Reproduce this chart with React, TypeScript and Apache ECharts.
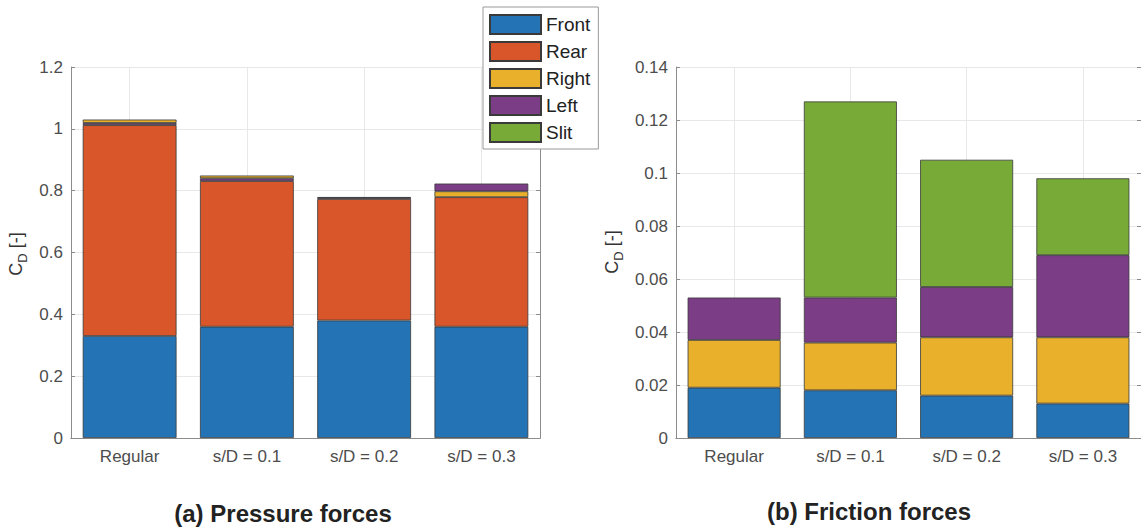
import React, { useEffect, useRef } from "react";
import * as echarts from "echarts";

const categories = ["Regular", "s/D = 0.1", "s/D = 0.2", "s/D = 0.3"];

// (a) Pressure forces
const pressureFront = [0.33, 0.36, 0.38, 0.36];
const pressureRear = [0.682, 0.471, 0.393, 0.419];
const pressureRight = [0.011, 0.009, 0.002, 0.019];
const pressureLeft = [0.007, 0.009, 0.004, 0.025];
// stacking order seen in the picture: purple drawn below yellow in first three bars
const leftBelowRight = [true, true, true, false];

// (b) Friction forces
const frictionFront = [0.019, 0.018, 0.016, 0.013];
const frictionRight = [0.018, 0.018, 0.022, 0.025];
const frictionLeft = [0.016, 0.017, 0.019, 0.031];
const frictionSlit = [null, 0.074, 0.048, 0.029];

const legendNames = ["Front", "Rear", "Right", "Left", "Slit"];
const colors: Record<string, string> = {
  Front: "#2474b5",
  Rear: "#d9552a",
  Right: "#e8b02b",
  Left: "#7b3d86",
  Slit: "#78aa37",
};

const FONT = "Liberation Sans, Arial, sans-serif";
const AXIS_COLOR = "#8c8c8c";
const GRID_COLOR = "#e8e8e8";
const LABEL_COLOR = "#4d4d4d";

function barSeries(name: string, data: (number | null)[], idx: number, stack: string) {
  return {
    type: "bar",
    name,
    data,
    stack,
    xAxisIndex: idx,
    yAxisIndex: idx,
    barWidth: "80%",
    itemStyle: { color: colors[name], borderColor: "#3a3a3a", borderWidth: 0.8 },
    emphasis: { disabled: true },
  };
}

function xAxes(idx: number) {
  return [
    {
      type: "category",
      gridIndex: idx,
      data: categories,
      position: "bottom",
      axisLine: { lineStyle: { color: AXIS_COLOR, width: 1 } },
      axisTick: { inside: true, alignWithLabel: true, length: 4, lineStyle: { color: AXIS_COLOR } },
      axisLabel: { fontSize: 17, color: LABEL_COLOR, fontFamily: FONT, margin: 10 },
      splitLine: { show: true, alignWithLabel: true, lineStyle: { color: GRID_COLOR, width: 1 } },
    },
    {
      type: "category",
      gridIndex: idx,
      data: categories,
      position: "top",
      axisLine: { lineStyle: { color: AXIS_COLOR, width: 1 } },
      axisTick: { inside: true, alignWithLabel: true, length: 4, lineStyle: { color: AXIS_COLOR } },
      axisLabel: { show: false },
      splitLine: { show: false },
    },
  ];
}

function yAxes(idx: number, max: number, interval: number) {
  return [
    {
      type: "value",
      gridIndex: idx,
      min: 0,
      max,
      interval,
      position: "left",
      axisLine: { show: true, lineStyle: { color: AXIS_COLOR, width: 1 } },
      axisTick: { show: true, inside: true, length: 4, lineStyle: { color: AXIS_COLOR } },
      axisLabel: { fontSize: 17, color: LABEL_COLOR, fontFamily: FONT, margin: 8 },
      splitLine: { show: true, lineStyle: { color: GRID_COLOR, width: 1 } },
    },
    {
      type: "value",
      gridIndex: idx,
      min: 0,
      max,
      interval,
      position: "right",
      axisLine: { show: true, lineStyle: { color: AXIS_COLOR, width: 1 } },
      axisTick: { show: true, inside: true, length: 4, lineStyle: { color: AXIS_COLOR } },
      axisLabel: { show: false },
      splitLine: { show: false },
    },
  ];
}

function yTitle(x: number, y: number) {
  return {
    type: "text",
    x,
    y,
    rotation: Math.PI / 2,
    style: {
      text: "{c|C}{d|D}{c| [-]}",
      align: "center",
      verticalAlign: "middle",
      fill: "#333",
      fontFamily: FONT,
      rich: {
        c: { fontSize: 18, fontFamily: FONT, fill: "#333", lineHeight: 22, verticalAlign: "top" },
        d: { fontSize: 13, fontFamily: FONT, fill: "#333", lineHeight: 22, verticalAlign: "bottom", padding: [10, 0, 0, 0] },
      },
    },
  };
}

export default function App() {
  const ref = useRef<HTMLDivElement>(null);

  useEffect(() => {
    document.body.style.margin = "0";
    if (!ref.current) return;
    const chart = echarts.init(ref.current, null, { renderer: "svg" });

    // pressure series: split Left into two stacked pieces to keep the observed order
    const leftLow = pressureLeft.map((v, i) => (leftBelowRight[i] ? v : null));
    const leftHigh = pressureLeft.map((v, i) => (leftBelowRight[i] ? null : v));

    const series: any[] = [
      barSeries("Front", pressureFront, 0, "a"),
      barSeries("Rear", pressureRear, 0, "a"),
      barSeries("Left", leftLow, 0, "a"),
      barSeries("Right", pressureRight, 0, "a"),
      barSeries("Left", leftHigh, 0, "a"),
      barSeries("Front", frictionFront, 2, "b"),
      barSeries("Right", frictionRight, 2, "b"),
      barSeries("Left", frictionLeft, 2, "b"),
      barSeries("Slit", frictionSlit, 2, "b"),
    ];

    const option: any = {
      animation: false,
      backgroundColor: "#ffffff",
      grid: [
        { left: 71, top: 67, width: 469, height: 371 },
        { left: 676, top: 67, width: 469, height: 371 },
      ],
      xAxis: [...xAxes(0), ...xAxes(1)],
      yAxis: [...yAxes(0, 1.2, 0.2), ...yAxes(1, 0.14, 0.02)],
      legend: {
        data: legendNames,
        orient: "vertical",
        left: 483,
        top: 7,
        padding: [7, 8, 6, 6],
        icon: "rect",
        itemWidth: 51,
        itemHeight: 19,
        itemGap: 6,
        backgroundColor: "#ffffff",
        borderColor: "#999999",
        borderWidth: 1,
        borderRadius: 0,
        selectedMode: false,
        textStyle: { fontSize: 19, color: "#222", fontFamily: FONT },
        z: 10,
      },
      graphic: [
        yTitle(18, 254),
        yTitle(614, 252),
        {
          type: "text",
          x: 283,
          y: 513,
          style: {
            text: "(a) Pressure forces",
            align: "center",
            verticalAlign: "middle",
            fontSize: 24,
            fontWeight: "bold",
            fontFamily: FONT,
            fill: "#222",
          },
        },
        {
          type: "text",
          x: 869,
          y: 511,
          style: {
            text: "(b) Friction forces",
            align: "center",
            verticalAlign: "middle",
            fontSize: 24,
            fontWeight: "bold",
            fontFamily: FONT,
            fill: "#222",
          },
        },
      ],
      series,
    };
    chart.setOption(option);
    return () => chart.dispose();
  }, []);

  return <div ref={ref} style={{ width: 1141, height: 528 }} />;
}
